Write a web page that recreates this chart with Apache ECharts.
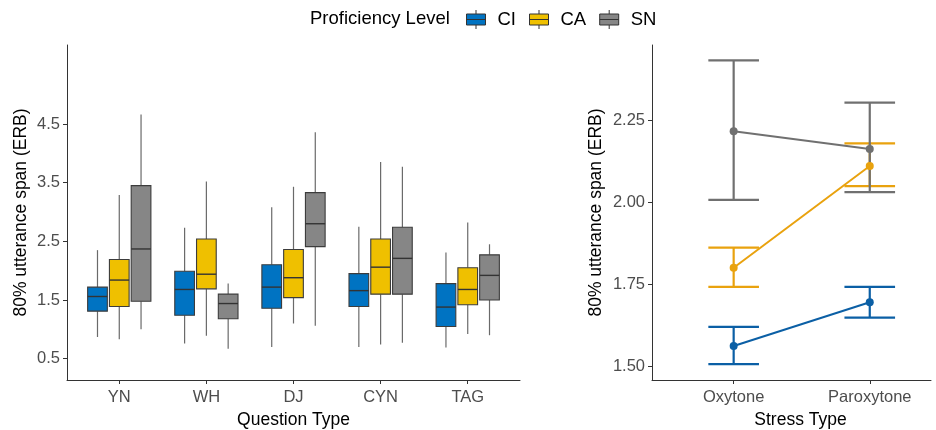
<!DOCTYPE html>
<html><head><meta charset="utf-8">
<script src="https://cdn.jsdelivr.net/npm/echarts@6/dist/echarts.min.js"></script>
<style>html,body{margin:0;padding:0;background:#fff}#c{width:936px;height:430px}</style>
</head><body><div id="c"></div>
<script>
// ---- Left panel: boxplots by question type ----
const questionTypes = ['YN', 'WH', 'DJ', 'CYN', 'TAG'];
const groups = ['CI', 'CA', 'SN'];
// each entry: [min, Q1, median, Q3, max]
const boxCI = [[0.87, 1.31, 1.56, 1.72, 2.35], [0.76, 1.24, 1.68, 1.99, 2.73], [0.70, 1.36, 1.72, 2.10, 3.08], [0.70, 1.39, 1.66, 1.95, 2.75], [0.69, 1.05, 1.38, 1.78, 2.31]];
const boxCA = [[0.83, 1.39, 1.84, 2.19, 3.29], [0.89, 1.69, 1.94, 2.54, 3.52], [1.10, 1.54, 1.88, 2.36, 3.43], [0.74, 1.60, 2.06, 2.54, 3.85], [0.92, 1.42, 1.68, 2.05, 2.82]];
const boxSN = [[1.00, 1.48, 2.37, 3.45, 4.66], [0.67, 1.18, 1.44, 1.60, 1.78], [1.06, 2.41, 2.80, 3.33, 4.36], [0.77, 1.60, 2.21, 2.74, 3.77], [0.90, 1.50, 1.92, 2.27, 2.45]];
const leftTicks = [0.5, 1.5, 2.5, 3.5, 4.5];

// ---- Right panel: means with error bars by stress type ----
const stressTypes = ['Oxytone', 'Paroxytone'];
const meanCI = [1.563, 1.696], lowCI = [1.508, 1.649], highCI = [1.621, 1.743];
const meanCA = [1.801, 2.110], lowCA = [1.743, 2.049], highCA = [1.862, 2.179];
const meanSN = [2.216, 2.162], lowSN = [2.007, 2.031], highSN = [2.431, 2.303];
const rightTicks = [1.50, 1.75, 2.00, 2.25];

const boxColors = ['#0073C2', '#EFC000', '#868686'];
const lineColors = ['#0B5FA5', '#E9A20E', '#707070'];
const FONT = 'Liberation Sans, Arial, sans-serif';

const boxSets = [boxCI, boxCA, boxSN];
const meanSets = [meanCI, meanCA, meanSN];
const lowSets = [lowCI, lowCA, lowSN];
const highSets = [highCI, highCA, highSN];

const dodge = [-0.25, 0, 0.25];
const halfBox = 0.113;

function boxRender(gi) {
  return function (params, api) {
    const x = api.value(0) + dodge[gi];
    const yMin = api.coord([x, api.value(1)])[1];
    const yQ1 = api.coord([x, api.value(2)])[1];
    const yMed = api.coord([x, api.value(3)])[1];
    const yQ3 = api.coord([x, api.value(4)])[1];
    const yMax = api.coord([x, api.value(5)])[1];
    const xc = api.coord([x, 1])[0];
    const xl = api.coord([x - halfBox, 1])[0];
    const xr = api.coord([x + halfBox, 1])[0];
    const wStyle = { stroke: '#6a6a6a', lineWidth: 1.2 };
    return {
      type: 'group',
      children: [
        { type: 'line', shape: { x1: xc, y1: yQ3, x2: xc, y2: yMax }, style: wStyle },
        { type: 'line', shape: { x1: xc, y1: yQ1, x2: xc, y2: yMin }, style: wStyle },
        { type: 'rect', shape: { x: xl, y: yQ3, width: xr - xl, height: yQ1 - yQ3 },
          style: { fill: boxColors[gi], stroke: '#3c3c3c', lineWidth: 1.1 } },
        { type: 'line', shape: { x1: xl, y1: yMed, x2: xr, y2: yMed }, style: { stroke: '#333', lineWidth: 1.4 } }
      ]
    };
  };
}

function errRender(gi) {
  return function (params, api) {
    const x = api.value(0);
    const pLo = api.coord([x, api.value(1)]);
    const pHi = api.coord([x, api.value(2)]);
    const xl = api.coord([x - 0.186, 2])[0];
    const xr = api.coord([x + 0.186, 2])[0];
    const st = { stroke: lineColors[gi], lineWidth: 2.2 };
    return {
      type: 'group',
      children: [
        { type: 'line', shape: { x1: pLo[0], y1: pLo[1], x2: pHi[0], y2: pHi[1] }, style: st },
        { type: 'line', shape: { x1: xl, y1: pLo[1], x2: xr, y2: pLo[1] }, style: st },
        { type: 'line', shape: { x1: xl, y1: pHi[1], x2: xr, y2: pHi[1] }, style: st }
      ]
    };
  };
}

const series = [];
groups.forEach((g, gi) => {
  series.push({
    name: g, type: 'custom', xAxisIndex: 0, yAxisIndex: 0,
    itemStyle: { color: boxColors[gi] },
    renderItem: boxRender(gi),
    encode: { x: 0, y: [1, 2, 3, 4, 5] },
    data: questionTypes.map((q, i) => [i + 1].concat(boxSets[gi][i])),
    silent: true, z: 2
  });
});
groups.forEach((g, gi) => {
  series.push({
    name: g, type: 'custom', xAxisIndex: 1, yAxisIndex: 1,
    itemStyle: { color: lineColors[gi] },
    renderItem: errRender(gi),
    encode: { x: 0, y: [1, 2] },
    data: stressTypes.map((s, i) => [i + 1, lowSets[gi][i], highSets[gi][i]]),
    silent: true, z: 2
  });
  series.push({
    name: g, type: 'line', xAxisIndex: 1, yAxisIndex: 1,
    data: stressTypes.map((s, i) => [i + 1, meanSets[gi][i]]),
    symbol: 'circle', symbolSize: 8, showSymbol: true,
    itemStyle: { color: lineColors[gi] },
    lineStyle: { color: lineColors[gi], width: 2 },
    silent: true, z: 3
  });
});

const axisLine = { show: true, lineStyle: { color: '#333', width: 1 } };
const axisTick = { show: true, length: 4, lineStyle: { color: '#333', width: 1 } };
const labelStyle = { color: '#4D4D4D', fontSize: 16.5, fontFamily: FONT };
const nameStyle = { color: '#000', fontSize: 17.5, fontFamily: FONT };

const option = {
  animation: false,
  textStyle: { fontFamily: FONT },
  title: {
    text: 'Proficiency Level', left: 310, top: 9, padding: 0,
    textStyle: { fontSize: 18.5, fontWeight: 'normal', color: '#000', fontFamily: FONT }
  },
  legend: {
    left: 466, top: 9.5, padding: 0, itemWidth: 19, itemHeight: 19, itemGap: 13,
    selectedMode: false,
    icon: 'path://M0,4 L19,4 L19,15 L0,15 Z M0,9.5 L19,9.5 M9.5,0 L9.5,4 M9.5,15 L9.5,19',
    itemStyle: { borderColor: '#333', borderWidth: 1 },
    textStyle: { fontSize: 18.5, color: '#000', fontFamily: FONT, padding: [0, 0, 0, 7] },
    data: groups.map((g, gi) => ({ name: g, itemStyle: { color: boxColors[gi], borderColor: '#333', borderWidth: 1 } }))
  },
  grid: [
    { left: 67, right: 416, top: 45, bottom: 50, containLabel: false, outerBoundsMode: 'none' },
    { left: 652, right: 5, top: 45, bottom: 50, containLabel: false, outerBoundsMode: 'none' }
  ],
  xAxis: [
    {
      gridIndex: 0, type: 'value', min: 0.4, max: 5.6,
      splitLine: { show: false }, axisLine, axisTick: Object.assign({ customValues: [1, 2, 3, 4, 5] }, axisTick),
      axisLabel: Object.assign({ customValues: [1, 2, 3, 4, 5], margin: 9, formatter: v => questionTypes[Math.round(v) - 1] || '' }, labelStyle),
      name: 'Question Type', nameLocation: 'middle', nameGap: 31, nameTextStyle: nameStyle
    },
    {
      gridIndex: 1, type: 'value', min: 0.4, max: 2.45,
      splitLine: { show: false }, axisLine, axisTick: Object.assign({ customValues: [1, 2] }, axisTick),
      axisLabel: Object.assign({ customValues: [1, 2], margin: 9, formatter: v => stressTypes[Math.round(v) - 1] || '' }, labelStyle),
      name: 'Stress Type', nameLocation: 'middle', nameGap: 31,
      nameTextStyle: Object.assign({ padding: [0, 0, 0, 18] }, nameStyle)
    }
  ],
  yAxis: [
    {
      gridIndex: 0, type: 'value', min: 0.137, max: 5.846,
      splitLine: { show: false }, axisLine, axisTick: Object.assign({ customValues: leftTicks }, axisTick),
      axisLabel: Object.assign({ customValues: leftTicks, margin: 7, formatter: v => v.toFixed(1) }, labelStyle),
      name: '80% utterance span (ERB)', nameLocation: 'middle', nameGap: 37, nameTextStyle: nameStyle
    },
    {
      gridIndex: 1, type: 'value', min: 1.4596, max: 2.478,
      splitLine: { show: false }, axisLine, axisTick: Object.assign({ customValues: rightTicks }, axisTick),
      axisLabel: Object.assign({ customValues: rightTicks, margin: 7, formatter: v => v.toFixed(2) }, labelStyle),
      name: '80% utterance span (ERB)', nameLocation: 'middle', nameGap: 47, nameTextStyle: nameStyle
    }
  ],
  series
};
const chart = echarts.init(document.getElementById('c'), null, { renderer: 'canvas' });
chart.setOption(option);
</script></body></html>
